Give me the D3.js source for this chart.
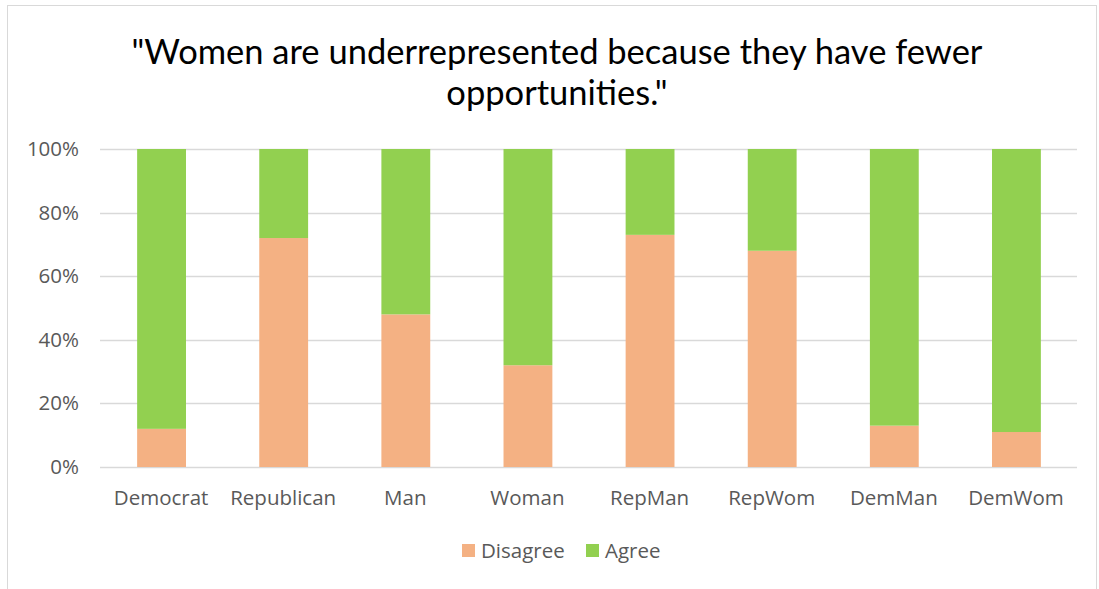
<!DOCTYPE html>
<html>
<head>
<meta charset="utf-8">
<script src="https://cdn.jsdelivr.net/npm/d3@7/dist/d3.min.js"></script>
<style>
  html, body { margin: 0; padding: 0; background: #fff; }
  svg { display: block; }
</style>
</head>
<body>
<svg id="chart" width="1099" height="589"></svg>
<script>
// Survey responses by group, in percent
const categories = ["Democrat", "Republican", "Man", "Woman", "RepMan", "RepWom", "DemMan", "DemWom"];
const disagree = [12, 72, 48, 32, 73, 68, 13, 11];
const agree = [88, 28, 52, 68, 27, 32, 87, 89];
const seriesNames = ["Disagree", "Agree"];
const yTicks = [0, 20, 40, 60, 80, 100];
const titleLines = ["\"Women are underrepresented because they have fewer", "opportunities.\""];

const colors = { Disagree: "#F4B183", Agree: "#92D050" };

const svg = d3.select("#chart");
const W = 1099, H = 589;
const margin = { left: 100, right: 22, top: 149, bottom: 122 };
const labelFont = "'Open Sans', sans-serif";
const labelSize = 20.5;

// chart frame
svg.append("rect")
  .attr("x", 7.5).attr("y", 5.5)
  .attr("width", W - 10).attr("height", H)
  .attr("fill", "#fff").attr("stroke", "#d9d9d9").attr("stroke-width", 1);

// title
svg.append("g").selectAll("text")
  .data(titleLines)
  .join("text")
  .attr("x", 557)
  .attr("y", (d, i) => 64 + i * 41)
  .attr("text-anchor", "middle")
  .attr("font-family", "Lato, 'Open Sans', sans-serif")
  .attr("font-size", 34.5)
  .attr("fill", "#000")
  .text(d => d);

const x = d3.scaleBand()
  .domain(categories)
  .range([margin.left, W - margin.right])
  .paddingInner(0.6)
  .paddingOuter(0.3);

const y = d3.scaleLinear()
  .domain([0, 100])
  .range([H - margin.bottom, margin.top]);

// gridlines
svg.append("g")
  .selectAll("line")
  .data(yTicks)
  .join("line")
  .attr("x1", margin.left).attr("x2", W - margin.right)
  .attr("y1", d => Math.round(y(d)) + 0.5).attr("y2", d => Math.round(y(d)) + 0.5)
  .attr("stroke", "#d9d9d9").attr("stroke-width", 1.5);

// stacked bars
const rows = categories.map((c, i) => ({ cat: c, Disagree: disagree[i], Agree: agree[i] }));
const stack = d3.stack().keys(seriesNames)(rows);

svg.append("g")
  .selectAll("g")
  .data(stack)
  .join("g")
  .attr("fill", d => colors[d.key])
  .selectAll("rect")
  .data(d => d)
  .join("rect")
  .attr("x", d => x(d.data.cat) + 0.5)
  .attr("width", x.bandwidth())
  .attr("y", d => y(d[1]))
  .attr("height", d => y(d[0]) - y(d[1]));

// y axis labels
const yAxis = d3.axisLeft(y)
  .tickValues(yTicks)
  .tickFormat(d => d + "%")
  .tickSize(0)
  .tickPadding(21);
const gy = svg.append("g")
  .attr("transform", `translate(${margin.left},0)`)
  .call(yAxis);
gy.select(".domain").remove();
gy.selectAll("text")
  .attr("font-family", labelFont)
  .attr("font-size", labelSize)
  .attr("fill", "#595959");

// x axis labels
const xAxis = d3.axisBottom(x).tickSize(0).tickPadding(23);
const gx = svg.append("g")
  .attr("transform", `translate(0,${H - margin.bottom})`)
  .call(xAxis);
gx.select(".domain").remove();
gx.selectAll("text")
  .attr("font-family", labelFont)
  .attr("font-size", labelSize)
  .attr("fill", "#595959");

// legend
const legendItems = [
  { name: "Disagree", x: 462 },
  { name: "Agree", x: 586 }
];
const lg = svg.append("g").selectAll("g")
  .data(legendItems)
  .join("g")
  .attr("transform", d => `translate(${d.x},544)`);
lg.append("rect")
  .attr("width", 13).attr("height", 13)
  .attr("fill", d => colors[d.name]);
lg.append("text")
  .attr("x", 19).attr("y", 14)
  .attr("font-family", labelFont)
  .attr("font-size", labelSize)
  .attr("fill", "#595959")
  .text(d => d.name);
</script>
</body>
</html>
